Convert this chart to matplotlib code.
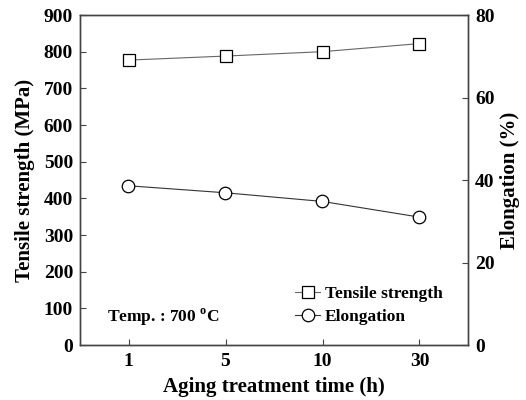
import matplotlib
matplotlib.use("Agg")
import matplotlib.pyplot as plt

categories = ["1", "5", "10", "30"]
tensile = [777, 788, 800, 822]
elongation = [38.6, 36.9, 34.8, 31.0]

plt.rcParams['font.family'] = ['Liberation Serif', 'DejaVu Serif']
plt.rcParams['font.weight'] = 'bold'
plt.rcParams['mathtext.fontset'] = 'custom'
plt.rcParams['mathtext.rm'] = 'Liberation Serif:bold'
plt.rcParams['mathtext.bf'] = 'Liberation Serif:bold'

fig = plt.figure(figsize=(5.26, 4.0), dpi=100)
ax = fig.add_axes([80/526, 1-345/400, (468-80)/526, (345-15)/400])
ax2 = ax.twinx()

x = list(range(len(categories)))
l1, = ax.plot(x, tensile, color='#666666', lw=0.8, marker='s', ms=8,
              mfc='white', mec='black', mew=0.9, label='Tensile strength')
l2, = ax2.plot(x, elongation, color='#333333', lw=0.8, marker='o', ms=9,
               mfc='white', mec='black', mew=0.9, label='Elongation')

ax.set_xlim(-0.5, 3.5)
ax.set_ylim(0, 900)
ax.set_yticks(range(0, 901, 100))
ax2.set_ylim(0, 80)
ax2.set_yticks([0, 20, 40, 60, 80])
ax.set_xticks(x)
ax.set_xticklabels(categories)

for a in (ax, ax2):
    for s in a.spines.values():
        s.set_color('#444444')
        s.set_linewidth(1.0)
ax.tick_params(axis='both', direction='in', labelsize=14, length=4, color='#444444', pad=5)
ax.tick_params(axis='x', pad=6)
ax2.tick_params(axis='y', direction='in', labelsize=14, length=4, color='#444444', pad=5)
for lab in ax.get_xticklabels() + ax.get_yticklabels() + ax2.get_yticklabels():
    lab.set_fontweight('bold')

ax.set_xlabel('Aging treatment time (h)', fontsize=15, fontweight='bold', labelpad=5)
ax.set_ylabel('Tensile strength (MPa)', fontsize=15, fontweight='bold', labelpad=6)
ax2.set_ylabel('Elongation (%)', fontsize=15, fontweight='bold', labelpad=4)

ax.text(0.07, 0.085, r'Temp. : 700 $^{\mathbf{o}}$C', transform=ax.transAxes,
        fontsize=12.5, fontweight='bold', ha='left', va='center')

leg = ax.legend(handles=[l1, l2], loc='lower right', bbox_to_anchor=(0.975, 0.012),
                frameon=False, handlelength=1.4, handletextpad=0.3,
                labelspacing=0.4, prop={'weight': 'bold', 'size': 12.5})

fig.savefig('out.png', dpi=100)
